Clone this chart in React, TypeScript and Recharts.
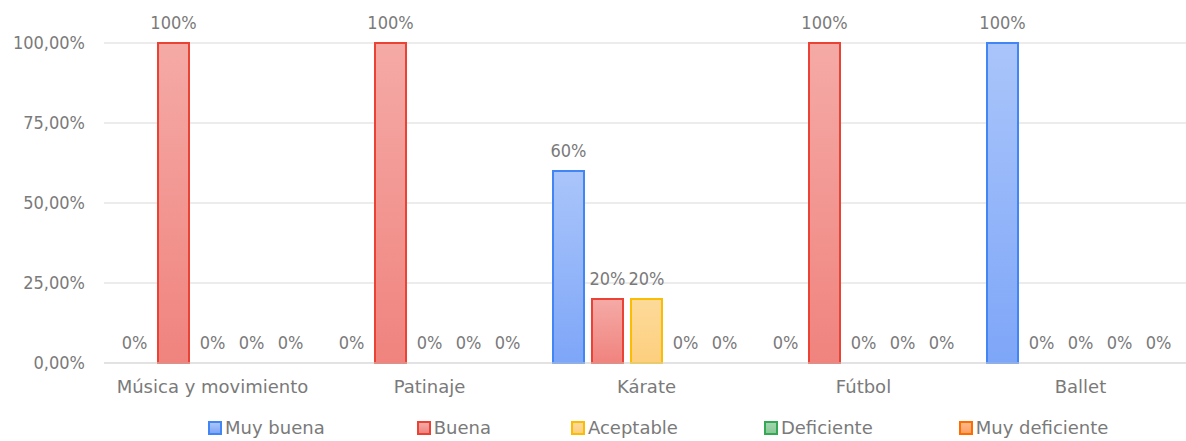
import { BarChart, Bar, XAxis, YAxis, CartesianGrid, Legend, LabelList, Rectangle } from "recharts"

const categories = ["Música y movimiento", "Patinaje", "Kárate", "Fútbol", "Ballet"]
const muyBuena = [0, 0, 60, 0, 100]
const buena = [100, 100, 20, 100, 0]
const aceptable = [0, 0, 20, 0, 0]
const deficiente = [0, 0, 0, 0, 0]
const muyDeficiente = [0, 0, 0, 0, 0]
const yTicks = [0, 25, 50, 75, 100]

const series = [
    { key: "muyBuena", name: "Muy buena", stroke: "#4285F4", top: "#AAC5FA", bottom: "#7EA6F8" },
    { key: "buena", name: "Buena", stroke: "#EA4335", top: "#F5AAA6", bottom: "#F0837E" },
    { key: "aceptable", name: "Aceptable", stroke: "#FBBC04", top: "#FDDA9A", bottom: "#FDCF7E" },
    { key: "deficiente", name: "Deficiente", stroke: "#34A853", top: "#A3D5AE", bottom: "#88C997" },
    { key: "muyDeficiente", name: "Muy deficiente", stroke: "#FF6D01", top: "#FFB88A", bottom: "#FFA062" },
]

const data = categories.map((c, i) => ({
    category: c,
    muyBuena: muyBuena[i],
    buena: buena[i],
    aceptable: aceptable[i],
    deficiente: deficiente[i],
    muyDeficiente: muyDeficiente[i],
}))

const FONT = "DejaVu Sans, sans-serif"
const NUM_FONT = "DejaVu Sans Condensed, DejaVu Sans, sans-serif"
const TEXT = "#7a7a7a"

const formatY = (v: number) => `${v.toFixed(2).replace(".", ",")}%`

function BarValueLabel(props: any) {
    const { x, y, width, value } = props
    if (x == null || y == null) return null
    return (
        <text
            x={Number(x) + Number(width) / 2}
            y={Number(y) - 14}
            textAnchor="middle"
            fill={TEXT}
            fontSize={18}
            fontFamily={NUM_FONT}
        >
            {`${value}%`}
        </text>
    )
}

// zero bars keep a tiny height so their label is drawn, but the rect itself is hidden
function BarShape(props: any) {
    if (!props.height || Math.abs(props.height) < 1) return null
    return <Rectangle {...props} />
}

const legendGaps = [92, 80, 86, 86, 0]

function LegendContent() {
    return (
        <div style={{ height: 40, display: "flex", justifyContent: "flex-start", paddingTop: 14, paddingLeft: 208, boxSizing: "border-box", fontFamily: FONT, fontSize: 18, color: TEXT }}>
            {series.map((s, i) => (
                <div key={s.key} style={{ display: "flex", alignItems: "center", marginRight: legendGaps[i], lineHeight: "22px", whiteSpace: "nowrap" }}>
                    <span
                        style={{
                            display: "inline-block",
                            width: 10,
                            height: 10,
                            border: `2px solid ${s.stroke}`,
                            background: `linear-gradient(${s.top}, ${s.bottom})`,
                            marginRight: 3,
                        }}
                    />
                    {s.name}
                </div>
            ))}
        </div>
    )
}

export default function App() {
    return (
        <div style={{ position: "absolute", left: 0, top: 0, background: "#fff" }}>
            <BarChart
                width={1186}
                height={441}
                data={data}
                margin={{ top: 43, right: -3, left: 0, bottom: 0 }}
                barSize={31}
                barGap={8}
            >
                <defs>
                    {series.map((s) => (
                        <linearGradient key={s.key} id={`grad-${s.key}`} x1="0" y1="0" x2="0" y2="1">
                            <stop offset="0%" stopColor={s.top} />
                            <stop offset="100%" stopColor={s.bottom} />
                        </linearGradient>
                    ))}
                </defs>
                <CartesianGrid vertical={false} stroke="#d9d9d9" />
                <XAxis
                    dataKey="category"
                    height={38}
                    tickLine={false}
                    axisLine={{ stroke: "#d9d9d9" }}
                    tickMargin={11}
                    tick={{ fill: TEXT, fontSize: 18, fontFamily: FONT }}
                    interval={0}
                />
                <YAxis
                    width={104}
                    domain={[0, 100]}
                    ticks={yTicks}
                    tickFormatter={formatY}
                    axisLine={false}
                    tickLine={false}
                    tickMargin={13}
                    tick={{ fill: TEXT, fontSize: 18, fontFamily: NUM_FONT }}
                />
                <Legend verticalAlign="bottom" content={<LegendContent />} />
                {series.map((s) => (
                    <Bar
                        key={s.key}
                        dataKey={s.key}
                        name={s.name}
                        fill={`url(#grad-${s.key})`}
                        stroke={s.stroke}
                        strokeWidth={2}
                        minPointSize={0.01}
                        shape={<BarShape />}
                        isAnimationActive={false}
                    >
                        <LabelList dataKey={s.key} content={<BarValueLabel />} />
                    </Bar>
                ))}
            </BarChart>
        </div>
    )
}
